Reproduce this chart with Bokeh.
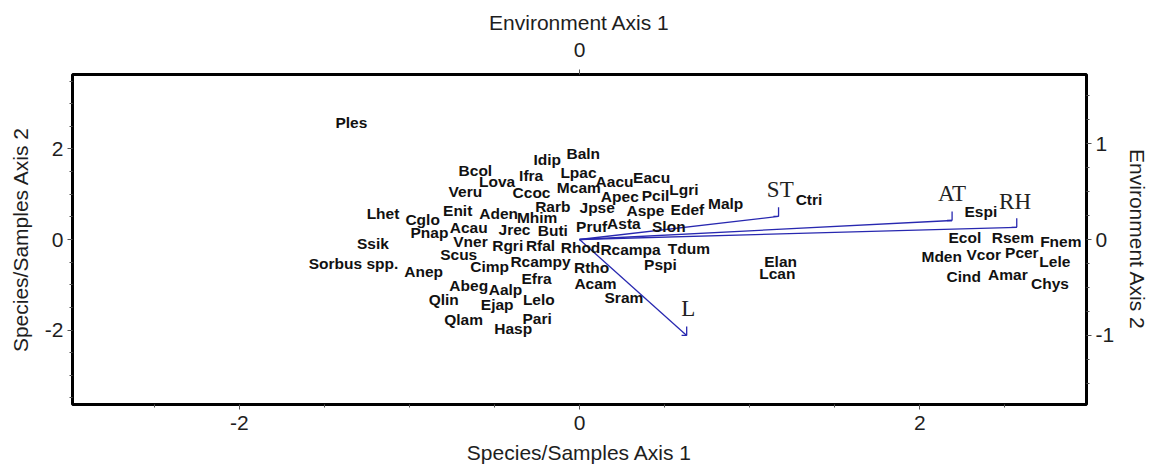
from bokeh.plotting import figure
from bokeh.models import Range1d, LinearAxis, FixedTicker, ColumnDataSource, PrintfTickFormatter
from bokeh.core.properties import value
from bokeh.embed import file_html
from bokeh.resources import INLINE

# ---- species scores (Species/Samples Axis 1 & 2) ----
species = ["Ples", "Baln", "Idip", "Bcol", "Lpac", "Ifra", "Lova", "Eacu", "Aacu", "Mcam",
           "Ccoc", "Veru", "Lgri", "Apec", "Pcil", "Malp", "Rarb", "Jpse", "Aspe", "Edef",
           "Lhet", "Enit", "Aden", "Mhim", "Cglo", "Asta", "Slon", "Pruf", "Acau", "Jrec",
           "Buti", "Pnap", "Vner", "Rgri", "Rfal", "Rhod", "Rcampa", "Tdum", "Ssik", "Scus",
           "Rcampy", "Sorbus spp.", "Cimp", "Anep", "Rtho", "Pspi", "Efra", "Abeg", "Acam", "Aalp",
           "Qlin", "Lelo", "Ejap", "Sram", "Qlam", "Pari", "Hasp", "Elan", "Lcan", "Ctri",
           "Espi", "Ecol", "Rsem", "Fnem", "Mden", "Vcor", "Pcer", "Lele", "Cind", "Amar", "Chys"]
sp_x = [-1.341, 0.022, -0.190, -0.612, -0.006, -0.284, -0.484, 0.424, 0.206, -0.004,
        -0.282, -0.671, 0.614, 0.237, 0.447, 0.859, -0.157, 0.104, 0.388, 0.634,
        -1.155, -0.716, -0.475, -0.249, -0.922, 0.261, 0.525, 0.071, -0.651, -0.382,
        -0.157, -0.882, -0.641, -0.422, -0.229, 0.006, 0.300, 0.643, -1.214, -0.710,
        -0.229, -1.328, -0.528, -0.916, 0.071, 0.476, -0.253, -0.651, 0.094, -0.435,
        -0.798, -0.239, -0.484, 0.261, -0.681, -0.249, -0.390, 1.182, 1.163, 1.349,
        2.359, 2.265, 2.547, 2.829, 2.129, 2.376, 2.600, 2.794, 2.259, 2.518, 2.765]
sp_y = [2.594, 1.909, 1.764, 1.528, 1.490, 1.417, 1.291, 1.380, 1.291, 1.146,
        1.035, 1.071, 1.102, 0.960, 0.976, 0.806, 0.733, 0.704, 0.645, 0.660,
        0.585, 0.645, 0.585, 0.483, 0.439, 0.351, 0.298, 0.291, 0.276, 0.225,
        0.203, 0.152, -0.040, -0.128, -0.128, -0.172, -0.216, -0.201, -0.099, -0.327,
        -0.497, -0.532, -0.592, -0.717, -0.614, -0.547, -0.863, -1.011, -0.974, -1.106,
        -1.320, -1.320, -1.430, -1.283, -1.768, -1.740, -1.976, -0.475, -0.753, 0.887,
        0.629, 0.042, 0.055, -0.040, -0.386, -0.327, -0.298, -0.497, -0.812, -0.768, -0.974]

# ---- environmental variables (biplot arrows) ----
env_vars = ["ST", "AT", "RH", "L"]
env_x = [1.17, 2.19, 2.57, 0.63]
env_y = [0.51, 0.42, 0.27, -2.12]
env_lab_x = [1.18, 2.19, 2.56, 0.64]
env_lab_y = [1.10, 1.01, 0.85, -1.53]

# ---- axes ----
x_ticks = [-2, 0, 2]
x_minor = [-2.5, -1.5, -1.0, -0.5, 0.5, 1.0, 1.5, 2.5]
y_ticks = [-2, 0, 2]
y_minor = [-3.5, -3.0, -2.5, -1.5, -1.0, -0.5, 0.5, 1.0, 1.5, 2.5, 3.0, 3.5]
env1_ticks = [0]
env2_ticks = [-1, 0, 1]
env2_minor = [-1.5, -1.25, -0.75, -0.5, -0.25, 0.25, 0.5, 0.75, 1.25, 1.5]

FONT = "Liberation Sans"
TXT = "#1e1e1e"

p = figure(frame_width=1014, frame_height=330,
           x_range=Range1d(-2.98, 2.98), y_range=Range1d(-3.645, 3.645),
           output_backend="svg", toolbar_location=None,
           min_border_left=72, min_border_right=62, min_border_top=74, min_border_bottom=60,
           x_axis_label="Species/Samples Axis 1", y_axis_label="Species/Samples Axis 2")
p.grid.visible = False
p.outline_line_color = "black"
p.outline_line_width = 3
p.background_fill_color = "white"
p.border_fill_color = "white"

bottom_axis = p.below[0]
left_axis = p.left[0]

p.extra_x_ranges = {"env1": Range1d(-0.9, 0.9)}
p.extra_y_ranges = {"env2": Range1d(-1.724, 1.724)}

top_axis = LinearAxis(x_range_name="env1", axis_label="Environment Axis 1",
                      ticker=FixedTicker(ticks=env1_ticks, minor_ticks=[]))
right_axis = LinearAxis(y_range_name="env2", axis_label="Environment Axis 2",
                        ticker=FixedTicker(ticks=env2_ticks, minor_ticks=env2_minor))
p.add_layout(top_axis, "above")
p.add_layout(right_axis, "right")

bottom_axis.ticker = FixedTicker(ticks=x_ticks, minor_ticks=x_minor)
left_axis.ticker = FixedTicker(ticks=y_ticks, minor_ticks=y_minor)

for ax in [bottom_axis, left_axis, top_axis, right_axis]:
    ax.formatter = PrintfTickFormatter(format="%d")
    ax.axis_line_color = None
    ax.major_tick_in = 0
    ax.major_tick_out = 5
    ax.minor_tick_in = 0
    ax.minor_tick_out = 3
    ax.major_tick_line_color = "#555555"
    ax.minor_tick_line_color = "#555555"
    ax.major_label_text_font = FONT
    ax.major_label_text_font_size = "21px"
    ax.major_label_text_color = TXT
    ax.axis_label_text_font = FONT
    ax.axis_label_text_font_size = "21px"
    ax.axis_label_text_font_style = "normal"
    ax.axis_label_text_color = TXT
    ax.major_label_standoff = 4

bottom_axis.major_label_standoff = 6
bottom_axis.axis_label_standoff = 8
top_axis.major_label_standoff = 13
top_axis.axis_label_standoff = 6
left_axis.axis_label_standoff = 10
right_axis.axis_label_standoff = 9

# arrows
arrow_color = "#2828b0"
src_env = ColumnDataSource(dict(x0=[0.0] * len(env_vars), y0=[0.0] * len(env_vars),
                                x=env_x, y=env_y, lx=env_lab_x, ly=env_lab_y, name=env_vars,
                                hx=[v - 0.03 for v in env_x], hy=[v + 0.2 for v in env_y]))
p.segment(x0="x0", y0="y0", x1="x", y1="y", source=src_env, line_color=arrow_color, line_width=1.3)
p.segment(x0="x", y0="y", x1="x", y1="hy", source=src_env, line_color=arrow_color, line_width=1.3)
p.segment(x0="x", y0="y", x1="hx", y1="y", source=src_env, line_color=arrow_color, line_width=1.3)
p.text(x="lx", y="ly", text="name", source=src_env, text_font=value("Liberation Serif"),
       text_font_size="23px", text_color="#222222", text_align="center", text_baseline="middle")

# species labels
src_sp = ColumnDataSource(dict(x=sp_x, y=sp_y, name=species))
p.text(x="x", y="y", text="name", source=src_sp, text_font=value(FONT), text_font_style="bold",
       text_font_size="15.5px", text_color="#111111", text_align="center", text_baseline="middle")

open("out.html", "w").write(file_html(p, INLINE))
